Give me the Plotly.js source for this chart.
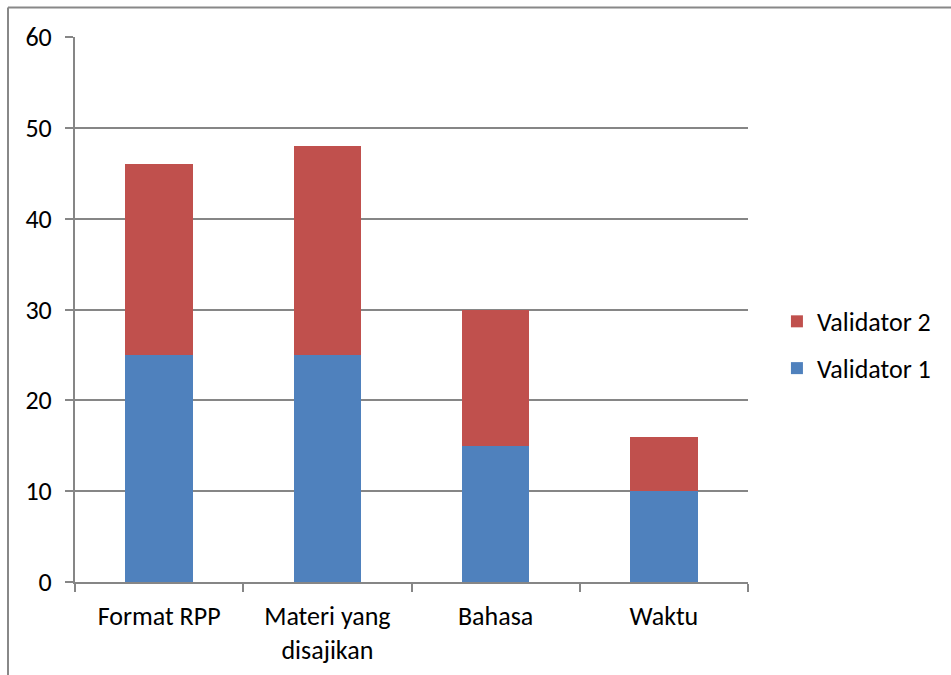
<!DOCTYPE html>
<html>
<head>
<meta charset="utf-8">
<script src="https://cdn.plot.ly/plotly-3.0.1.min.js"></script>
<style>html,body{margin:0;padding:0;background:#fff;}</style>
</head>
<body>
<div id="chart" style="width:951px;height:675px;"></div>
<script>
const categories = ["Format RPP", "Materi yang<br>disajikan", "Bahasa", "Waktu"];
const validator1 = [25, 25, 15, 10];
const validator2 = [21, 23, 15, 6];
const yTicks = [0, 10, 20, 30, 40, 50, 60];

const W = 951, H = 675;
const m = {l: 75, r: 203, t: 37, b: 93};
const pw = W - m.l - m.r, ph = H - m.t - m.b;
const bx = (8 - m.l) / pw;
const by = 1 + (m.t - 7.5) / ph;

const font = {family: "Carlito, Calibri, 'Open Sans', sans-serif", size: 26, color: "#000"};

const data = [
  {type: "bar", name: "Validator 1", legendgroup: "v1", legendrank: 2, x: categories, y: validator1, marker: {color: "#4F81BD"}},
  {type: "bar", name: "Validator 2", legendgroup: "v2", legendrank: 1, x: categories, y: validator2, marker: {color: "#C0504D"}}
];

const layout = {
  width: W, height: H,
  margin: m,
  barmode: "stack",
  bargap: 0.6,
  paper_bgcolor: "#fff", plot_bgcolor: "#fff",
  font: font,
  showlegend: true,
  legend: {
    x: 1.043, y: 0.435, xanchor: "left", yanchor: "middle",
    traceorder: "grouped", tracegroupgap: 10, font: font, itemwidth: 30
  },
  xaxis: {
    type: "category",
    tickson: "boundaries",
    ticks: "outside", ticklen: 8, tickcolor: "#868686", tickwidth: 2,
    showline: true, linecolor: "#868686", linewidth: 2,
    showgrid: false, zeroline: false,
    tickfont: font, ticklabelstandoff: 10
  },
  yaxis: {
    range: [0, 60], tickvals: yTicks,
    ticks: "outside", ticklen: 8, tickcolor: "#868686", tickwidth: 2,
    showline: true, linecolor: "#868686", linewidth: 2,
    showgrid: true, gridcolor: "#868686", gridwidth: 2,
    zeroline: false, tickfont: font, ticklabelstandoff: 8
  },
  shapes: [
    {type: "line", xref: "paper", yref: "paper", x0: bx, x1: 2, y0: by, y1: by, line: {color: "#888888", width: 2}},
    {type: "line", xref: "paper", yref: "paper", x0: bx, x1: bx, y0: -1, y1: by, line: {color: "#888888", width: 2}}
  ]
};

Plotly.newPlot("chart", data, layout, {displayModeBar: false, staticPlot: true});
</script>
</body>
</html>
